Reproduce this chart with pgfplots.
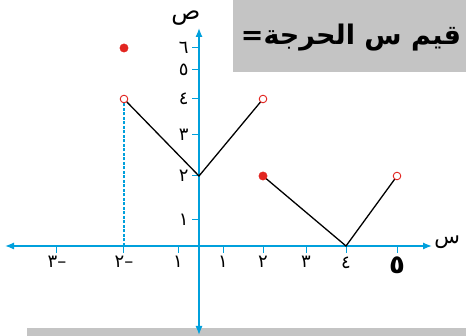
\documentclass[border=0pt]{standalone}
\usepackage{fontspec}
\usepackage{pgfplots}
\pgfplotsset{compat=1.18}
\usetikzlibrary{arrows.meta}
\newfontfamily\arabicfont[Script=Arabic]{DejaVu Sans}
\TeXXeTstate=1
\definecolor{axisblue}{RGB}{0,160,220}
\definecolor{ptred}{RGB}{226,38,33}
\definecolor{boxgray}{RGB}{196,196,196}

\begin{document}
\begin{tikzpicture}
\path[use as bounding box] (0,0) rectangle (466pt,336pt);
% grey panels
\fill[boxgray] (233pt,264pt) rectangle (466pt,336pt);
\fill[boxgray] (27pt,0pt) rectangle (466pt,8pt);
\node[font=\arabicfont\bfseries\fontsize{27}{30}\selectfont] at (351pt,298pt) {\beginR قيم س الحرجة=\endR};

\begin{axis}[
    at={(5pt,1pt)}, anchor=south west,
    scale only axis, width=427pt, height=307pt,
    clip=false,
    axis lines=middle,
    axis line style={axisblue, line width=1.3pt},
    x axis line style={{Latex[length=9pt,width=7pt]}-{Latex[length=9pt,width=7pt]}},
    y axis line style={{Latex[length=9pt,width=7pt]}-{Latex[length=9pt,width=7pt]}},
    tick style={axisblue, line width=1pt},
    tick align=outside, major tick length=7pt,
    xmin=-3.776, xmax=5.686, ymin=-3.423, ymax=6.909,
    % the book's scale is uneven, map values to the drawn positions
    x coord trafo/.code={\pgfmathparse{(#1) < -2 ? -142+67*((#1)+3) : ((#1) < -1 ? -75+54*((#1)+2) : ((#1) < 0 ? -21+21*((#1)+1) : ((#1) < 1 ? 24*(#1) : ((#1) < 2 ? 24+40*((#1)-1) : ((#1) < 3 ? 64+43*((#1)-2) : ((#1) < 4 ? 107+40*((#1)-3) : 147+51*((#1)-4)))))))}},
    y coord trafo/.code={\pgfmathparse{(#1) < 1 ? 26*(#1) : ((#1) < 2 ? 26+44*((#1)-1) : ((#1) < 3 ? 70+41*((#1)-2) : ((#1) < 4 ? 111+36*((#1)-3) : ((#1) < 5 ? 147+29*((#1)-4) : 176+22*((#1)-5)))))}},
    xtick={-3,-2,-1,1,2,3,4,5},
    xticklabels={\hbox{٣}\hbox{–},\hbox{٢}\hbox{–},١,١,٢,٣,٤,{\bfseries\fontsize{26}{28}\selectfont ٥}},
    ytick={1,2,3,4,5,6},
    yticklabels={١,٢,٣,٤,٥,٦},
    ticklabel style={font=\arabicfont\fontsize{18}{20}\selectfont, text=black},
    xticklabel style={yshift=0pt},
    xlabel={\beginR س\endR},
    ylabel={\beginR ص\endR},
    every axis x label/.style={at={(current axis.right of origin)}, anchor=west, xshift=1pt, yshift=4pt, inner sep=1pt, font=\arabicfont\fontsize{21}{24}\selectfont},
    every axis y label/.style={at={(current axis.above origin)}, anchor=south east, xshift=5pt, yshift=-1pt, font=\arabicfont\fontsize{24}{26}\selectfont},
]
\addplot[color=axisblue, line width=1.3pt, dash pattern=on 3pt off 1.5pt] coordinates {(-2,0) (-2,4)};
\addplot[black, line width=1.3pt] coordinates {(-2,4) (0,2) (2,4)};
\addplot[black, line width=1.3pt] coordinates {(2,2) (4,0) (5,2)};
\addplot[only marks, mark=*, mark size=3.8pt, mark options={draw=ptred, fill=white, line width=0.9pt}] coordinates {(-2,4) (2,4) (5,2)};
\addplot[only marks, mark=*, mark size=4.2pt, mark options={draw=ptred, fill=ptred}] coordinates {(-2,6) (2,2)};
\end{axis}
\end{tikzpicture}
\end{document}
